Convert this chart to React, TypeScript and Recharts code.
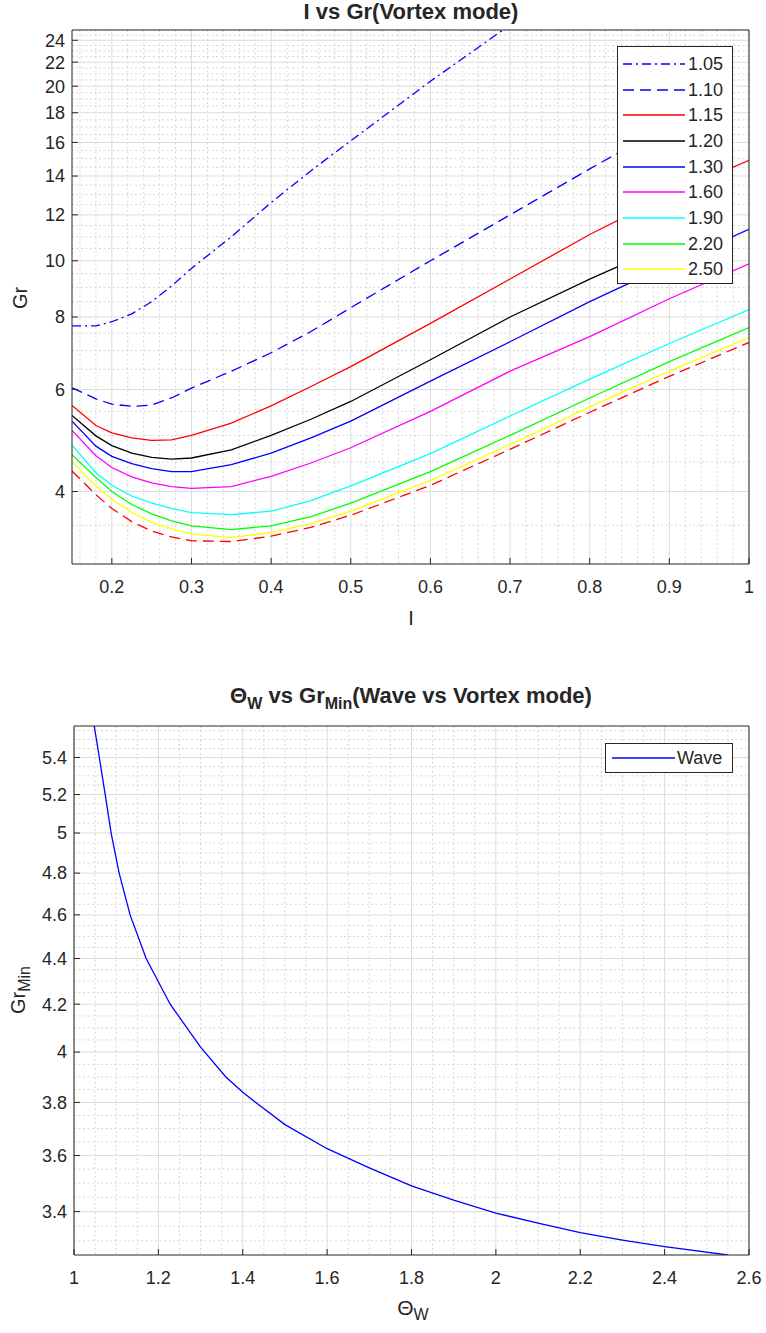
import React from 'react';
import { LineChart, Line, XAxis, YAxis, CartesianGrid, Legend } from 'recharts';

const FONT = '"Liberation Sans", Arial, Helvetica, sans-serif';
const TXT = '#262626';

// ---------- Top chart data: I vs Gr (Vortex mode) ----------
const iValues = [0.15, 0.18, 0.2, 0.225, 0.25, 0.275, 0.3, 0.35, 0.4, 0.45, 0.5, 0.6, 0.7, 0.8, 0.9, 1.0];
const gr105 = [7.72, 7.72, 7.85, 8.1, 8.5, 9.05, 9.7, 11.0, 12.6, 14.3, 16.1, 20.4, 25.5, null, null, null];
const gr110 = [6.04, 5.78, 5.66, 5.61, 5.64, 5.8, 6.03, 6.45, 6.94, 7.55, 8.3, 10.0, 12.0, 14.4, 17.2, null];
const gr115 = [5.63, 5.2, 5.05, 4.95, 4.9, 4.91, 5.0, 5.25, 5.62, 6.07, 6.57, 7.8, 9.3, 11.1, 13.0, 14.9];
const gr120 = [5.41, 4.99, 4.8, 4.66, 4.58, 4.55, 4.57, 4.72, 5.0, 5.33, 5.72, 6.75, 8.0, 9.3, 10.7, null];
const gr130 = [5.29, 4.79, 4.6, 4.47, 4.38, 4.33, 4.33, 4.45, 4.66, 4.95, 5.29, 6.2, 7.25, 8.5, 9.85, 11.33];
const gr160 = [5.1, 4.61, 4.4, 4.24, 4.14, 4.08, 4.05, 4.08, 4.25, 4.48, 4.76, 5.5, 6.45, 7.4, 8.6, 9.88];
const gr190 = [4.81, 4.31, 4.1, 3.93, 3.82, 3.74, 3.68, 3.65, 3.7, 3.86, 4.09, 4.65, 5.4, 6.25, 7.2, 8.24];
const gr220 = [4.63, 4.23, 4.0, 3.8, 3.66, 3.56, 3.49, 3.44, 3.49, 3.62, 3.82, 4.33, 5.0, 5.8, 6.7, 7.67];
const gr250 = [4.5, 4.09, 3.88, 3.68, 3.54, 3.45, 3.38, 3.33, 3.4, 3.52, 3.7, 4.18, 4.82, 5.6, 6.45, 7.38];
const grExtra = [4.34, 3.95, 3.74, 3.55, 3.42, 3.34, 3.29, 3.28, 3.35, 3.47, 3.64, 4.1, 4.73, 5.48, 6.32, 7.23];

const topXTicks = [0.2, 0.3, 0.4, 0.5, 0.6, 0.7, 0.8, 0.9, 1];
const topYTicks = [4, 6, 8, 10, 12, 14, 16, 18, 20, 22, 24];

type Series = { key: string; name: string; color: string; dash?: string; values: (number | null)[]; legend: boolean };
const topSeries: Series[] = [
  { key: 'g105', name: '1.05', color: '#0000ff', dash: '9 4 2 4', values: gr105, legend: true },
  { key: 'g110', name: '1.10', color: '#0000ff', dash: '11 6', values: gr110, legend: true },
  { key: 'g115', name: '1.15', color: '#ff0000', values: gr115, legend: true },
  { key: 'g120', name: '1.20', color: '#000000', values: gr120, legend: true },
  { key: 'g130', name: '1.30', color: '#0000ff', values: gr130, legend: true },
  { key: 'g160', name: '1.60', color: '#ff00ff', values: gr160, legend: true },
  { key: 'g190', name: '1.90', color: '#00ffff', values: gr190, legend: true },
  { key: 'g220', name: '2.20', color: '#00ff00', values: gr220, legend: true },
  { key: 'g250', name: '2.50', color: '#ffff00', values: gr250, legend: true },
  { key: 'gx', name: 'extra', color: '#ff0000', dash: '11 6', values: grExtra, legend: false },
];

const topData = iValues.map((x, i) => {
  const row: Record<string, number | null> = { x };
  topSeries.forEach((s) => (row[s.key] = s.values[i]));
  return row;
});

// ---------- Bottom chart data: Theta_W vs Gr_Min ----------
const thetaW = [1.045, 1.06, 1.074, 1.088, 1.107, 1.133, 1.171, 1.228, 1.3, 1.36, 1.4, 1.431, 1.5, 1.6, 1.7, 1.8, 1.9, 2.0, 2.1, 2.2, 2.3, 2.4, 2.55];
const grMinWave = [5.62, 5.4, 5.2, 5.0, 4.8, 4.6, 4.4, 4.2, 4.02, 3.9, 3.84, 3.8, 3.715, 3.625, 3.555, 3.49, 3.44, 3.395, 3.36, 3.328, 3.303, 3.281, 3.253];
const botXTicks = [1, 1.2, 1.4, 1.6, 1.8, 2, 2.2, 2.4, 2.6];
const botYTicks = [3.4, 3.6, 3.8, 4, 4.2, 4.4, 4.6, 4.8, 5, 5.2, 5.4];
const botData = thetaW.map((t, i) => ({ t, wave: grMinWave[i] }));

// minor grid helpers
function minor(from: number, to: number, step: number, majors: number[]) {
  const out: number[] = [];
  const n = Math.round((to - from) / step);
  for (let k = 0; k <= n; k++) {
    const v = Math.round((from + k * step) * 1000) / 1000;
    if (!majors.some((m) => Math.abs(m - v) < 1e-6)) out.push(v);
  }
  return out;
}
const topXMinor = minor(0.16, 0.98, 0.02, topXTicks);
const topYMinor = minor(3.5, 25, 0.5, topYTicks);
const botXMinor = minor(1.05, 2.55, 0.05, botXTicks);
const botYMinor = minor(3.3, 5.55, 0.05, botYTicks);

const fmt = (v: number) => String(Math.round(v * 100) / 100);
const tickStyle = { fontSize: 18, fill: TXT, fontFamily: FONT };
const MINOR = '#d6d6d6';
const MAJOR = '#dcdcdc';

const TopLegend = () => (
  <div
    style={{
      border: '1px solid #262626',
      background: '#fff',
      boxSizing: 'border-box',
      width: 116,
      paddingTop: 4,
      paddingBottom: 1,
    }}
  >
    {topSeries
      .filter((s) => s.legend)
      .map((s) => (
        <div key={s.key} style={{ display: 'flex', alignItems: 'center', height: 25.7 }}>
          <svg width={62} height={10} style={{ marginLeft: 5, display: 'block' }}>
            <line x1={0} y1={5} x2={62} y2={5} stroke={s.color} strokeWidth={1.3} strokeDasharray={s.dash} />
          </svg>
          <span style={{ fontFamily: FONT, fontSize: 18, color: TXT, marginLeft: 3, lineHeight: '18px' }}>{s.name}</span>
        </div>
      ))}
  </div>
);

const BotLegend = () => (
  <div
    style={{
      border: '1px solid #262626',
      background: '#fff',
      boxSizing: 'border-box',
      width: 128,
      height: 30,
      display: 'flex',
      alignItems: 'center',
    }}
  >
    <svg width={63} height={10} style={{ marginLeft: 6, display: 'block' }}>
      <line x1={0} y1={5} x2={63} y2={5} stroke="#0000ff" strokeWidth={1.3} />
    </svg>
    <span style={{ fontFamily: FONT, fontSize: 18, color: TXT, marginLeft: 2, lineHeight: '18px' }}>Wave</span>
  </div>
);

const abs = (left: number, top: number, extra: React.CSSProperties = {}): React.CSSProperties => ({
  position: 'absolute',
  left,
  top,
  transform: 'translate(-50%, -50%)',
  whiteSpace: 'nowrap',
  fontFamily: FONT,
  color: TXT,
  ...extra,
});

export default function App() {
  return (
    <div style={{ position: 'absolute', left: 0, top: 0, width: 766, height: 1333, background: '#fff', overflow: 'hidden' }}>
      {/* Top chart */}
      <div style={{ position: 'absolute', left: 0, top: 0 }}>
        <LineChart width={766} height={640} data={topData} margin={{ top: 29, right: 16, left: 0, bottom: 0 }}>
          <CartesianGrid verticalValues={topXMinor} horizontalValues={topYMinor} stroke={MINOR} strokeDasharray="2 2.5" />
          <CartesianGrid verticalValues={topXTicks} horizontalValues={topYTicks} stroke={MAJOR} />
          <XAxis
            dataKey="x"
            type="number"
            domain={[0.15, 1]}
            ticks={topXTicks}
            interval={0}
            allowDataOverflow
            height={76}
            tickSize={-6}
            tickMargin={22}
            tickFormatter={fmt}
            tick={tickStyle}
            stroke={TXT}
          />
          <XAxis xAxisId="top" orientation="top" dataKey="x" type="number" domain={[0.15, 1]} ticks={topXTicks} interval={0} allowDataOverflow height={1} tickSize={-6} tick={false} stroke={TXT} />
          <YAxis
            type="number"
            scale="log"
            domain={[3, 25]}
            ticks={topYTicks}
            interval={0}
            allowDataOverflow
            width={72}
            tickSize={-6}
            tickMargin={13}
            tick={tickStyle}
            stroke={TXT}
          />
          <YAxis yAxisId="right" orientation="right" type="number" scale="log" domain={[3, 25]} ticks={topYTicks} interval={0} allowDataOverflow width={1} tickSize={-6} tick={false} stroke={TXT} />
          <Legend layout="vertical" align="center" verticalAlign="middle" content={<TopLegend />} wrapperStyle={{ left: 617, top: 46, width: 116 }} />
          {topSeries.map((s) => (
            <Line
              key={s.key}
              dataKey={s.key}
              name={s.name}
              stroke={s.color}
              strokeWidth={1.3}
              strokeDasharray={s.dash}
              dot={false}
              activeDot={false}
              type="linear"
              legendType={s.legend ? 'line' : 'none'}
              isAnimationActive={false}
            />
          ))}
        </LineChart>
      </div>
      <div style={abs(411, 12, { fontSize: 22, fontWeight: 'bold' })}>I vs Gr(Vortex mode)</div>
      <div style={abs(411, 618, { fontSize: 20 })}>I</div>
      <div style={abs(20, 298, { fontSize: 20, transform: 'translate(-50%, -50%) rotate(-90deg)' })}>Gr</div>

      {/* Bottom chart */}
      <div style={{ position: 'absolute', left: 0, top: 680 }}>
        <LineChart width={766} height={653} data={botData} margin={{ top: 45, right: 16, left: 0, bottom: 0 }}>
          <CartesianGrid verticalValues={botXMinor} horizontalValues={botYMinor} stroke={MINOR} strokeDasharray="2 2.5" />
          <CartesianGrid verticalValues={botXTicks} horizontalValues={botYTicks} stroke={MAJOR} />
          <XAxis
            dataKey="t"
            type="number"
            domain={[1, 2.6]}
            ticks={botXTicks}
            interval={0}
            allowDataOverflow
            height={78}
            tickSize={-6}
            tickMargin={22}
            tickFormatter={fmt}
            tick={tickStyle}
            stroke={TXT}
          />
          <XAxis xAxisId="top" orientation="top" dataKey="t" type="number" domain={[1, 2.6]} ticks={botXTicks} interval={0} allowDataOverflow height={1} tickSize={-6} tick={false} stroke={TXT} />
          <YAxis
            type="number"
            scale="log"
            domain={[3.253, 5.576]}
            ticks={botYTicks}
            interval={0}
            allowDataOverflow
            width={74}
            tickSize={-6}
            tickMargin={13}
            tickFormatter={fmt}
            tick={tickStyle}
            stroke={TXT}
          />
          <YAxis yAxisId="right" orientation="right" type="number" scale="log" domain={[3.253, 5.576]} ticks={botYTicks} interval={0} allowDataOverflow width={1} tickSize={-6} tick={false} stroke={TXT} />
          <Legend layout="vertical" align="center" verticalAlign="middle" content={<BotLegend />} wrapperStyle={{ left: 605, top: 63, width: 128 }} />
          <Line dataKey="wave" name="Wave" stroke="#0000ff" strokeWidth={1.3} dot={false} activeDot={false} type="linear" isAnimationActive={false} />
        </LineChart>
      </div>
      <div style={abs(411, 698, { fontSize: 22, fontWeight: 'bold' })}>
        Θ<sub style={{ fontSize: 16 }}>W</sub> vs Gr<sub style={{ fontSize: 16 }}>Min</sub>(Wave vs Vortex mode)
      </div>
      <div style={abs(413, 1310, { fontSize: 21 })}>
        Θ<sub style={{ fontSize: 16 }}>W</sub>
      </div>
      <div style={abs(20, 990, { fontSize: 20, transform: 'translate(-50%, -50%) rotate(-90deg)' })}>
        Gr<sub style={{ fontSize: 16 }}>Min</sub>
      </div>
    </div>
  );
}
